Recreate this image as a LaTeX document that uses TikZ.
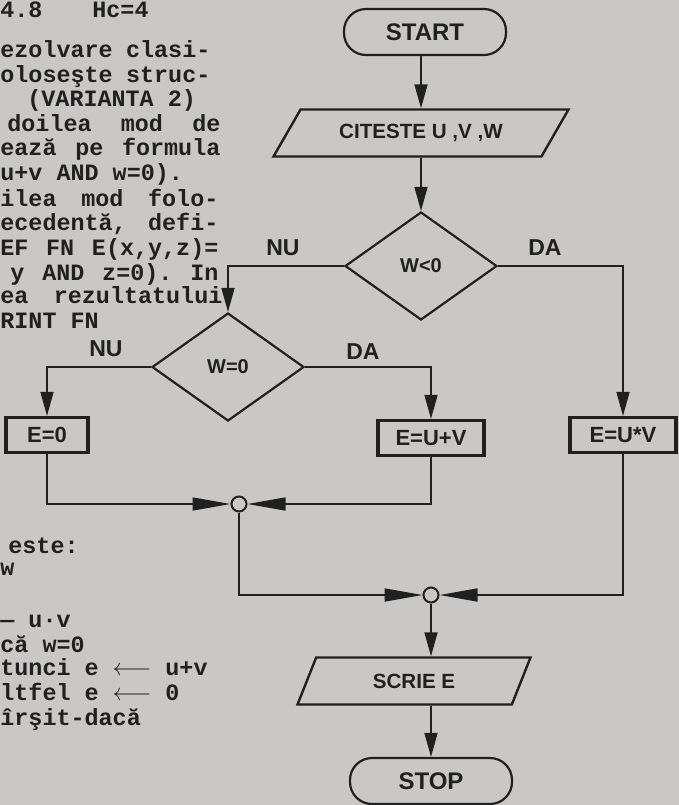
\documentclass[tikz,border=0pt]{standalone}
\usepackage{fontspec}
\setmainfont{Liberation Sans}
\setmonofont{Liberation Mono}
\usetikzlibrary{arrows.meta,positioning,shapes.geometric}
\definecolor{paper}{RGB}{201,200,198}
\definecolor{ink}{RGB}{32,32,32}

\begin{document}
\begin{tikzpicture}[x=0.5pt, y=-0.5pt,
  every node/.style={text=ink},
  term/.style={draw=ink, rounded corners=11pt, line width=1.1pt, minimum width=81pt,
               minimum height=23pt, inner sep=0pt, font=\bfseries\fontsize{12}{14}\selectfont},
  io/.style={draw=ink, trapezium, trapezium stretches body=true, line width=1.2pt, inner sep=0pt,
             minimum height=23.5pt, font=\bfseries\fontsize{10.3}{12}\selectfont},
  test/.style={draw=ink, diamond, line width=1.1pt, minimum width=76pt, minimum height=54pt,
               inner sep=0pt, font=\bfseries\fontsize{10}{12}\selectfont},
  proc/.style={draw=ink, line width=1.6pt, minimum height=17.5pt, inner sep=0pt,
               font=\bfseries\fontsize{11}{12}\selectfont},
  merge/.style={draw=ink, circle, line width=1pt, minimum size=7.5pt, inner sep=0pt},
  tag/.style={font=\bfseries\fontsize{11.5}{13}\selectfont},
  page/.style={anchor=base west, inner sep=0pt, font=\ttfamily\bfseries\fontsize{11.7}{13}\selectfont},
  flow/.style={draw=ink, line width=0.8pt},
  arr/.style={flow, -{Triangle[length=12pt, width=6.5pt]}},
  harr/.style={flow, -{Triangle[length=19pt, width=6.5pt]}}]
\fill[paper] (0,0) rectangle (679,805);
\useasboundingbox (0,0) rectangle (679,805);
% page text, cut at the left edge
\foreach \xa/\yb/\w/\txt [count=\i] in {0/57/105/{ezolvare\hfill clasi-},
    0/82/105/{oloseşte\hfill struc-}, 7/131/106.5/{doilea\hfill mod\hfill de},
    0/155/110/{ează\hfill pe\hfill formula}, 0/206/109/{ilea\hfill mod\hfill folo-},
    0/230/109/{ecedentă,\hfill defi-}, 0/255/109/{EF\hfill FN\hfill E(x,y,z)=},
    10/280/104/{y\hfill AND\hfill z=0).\hfill In}, 0/303/111/{ea\hfill rezultatului}}
  \node[page] (j\i) at (\xa,\yb) {\makebox[\w pt][l]{\txt}};
\foreach \xa/\yb/\txt [count=\i] in {0/17/{4.8}, 92/17/{Hc=4}, 27/106/{(VARIANTA 2)},
    0/180/{u+v AND w=0).}, 0/328/{RINT FN}, 0/575/{w}, 0/627/{— u·v}, 0/652/{că w=0},
    0/675/{tunci e $\longleftarrow$ u+v}, 0/700/{ltfel e $\longleftarrow$ 0}, 0/725/{îrşit-dacă}}
  \node[page] (p\i) at (\xa,\yb) {\txt};
\node[page] (este) at (8,553) {este:};
% flowchart
\node[term] (start) at (425,32) {START};
\node[io, trapezium left angle=33, trapezium right angle=147, minimum width=147.5pt] (cit) at (421,133) {CITESTE U ,V ,W};
\node[test] (d1) at (421,266) {W<0};
\node[test] (d2) at (228,367) {W=0};
\node[proc, minimum width=41pt] (e0) at (47,435) {E=0};
\node[proc, minimum width=53pt] (esum) at (431,438) {E=U+V};
\node[proc, minimum width=53pt] (eprod) at (623,435) {E=U*V};
\node[merge] (m1) at (239,504) {};
\node[merge] (m2) at (431,595) {};
\node[io, trapezium left angle=38, trapezium right angle=142, minimum width=116.5pt] (out) at (414,681) {SCRIE E};
\node[term] (stop) at (431,781) {STOP};
\node[tag] (nu1) at (283,248) {NU};
\node[tag] (da1) at (545,248) {DA};
\node[tag] (nu2) at (106,349) {NU};
\node[tag] (da2) at (363,352) {DA};
\draw[arr] (cit.north |- start.south) -- (cit.north);
\draw[arr] (cit.south) -- (d1.north);
\draw[arr] (d1.west) -| (d2.north);
\draw[arr] (d1.east) -| (eprod.north);
\draw[arr] (d2.west) -| (e0.north);
\draw[arr] (d2.east) -| (esum.north);
\draw[harr] (e0.south) |- (m1.west);
\draw[harr] (esum.south) |- (m1.east);
\draw[harr] (m1.south) |- (m2.west);
\draw[harr] (eprod.south) |- (m2.east);
\draw[arr] (m2.south) -- (m2 |- out.north);
\draw[arr] (m2 |- out.south) -- (stop.north);
\end{tikzpicture}
\end{document}
